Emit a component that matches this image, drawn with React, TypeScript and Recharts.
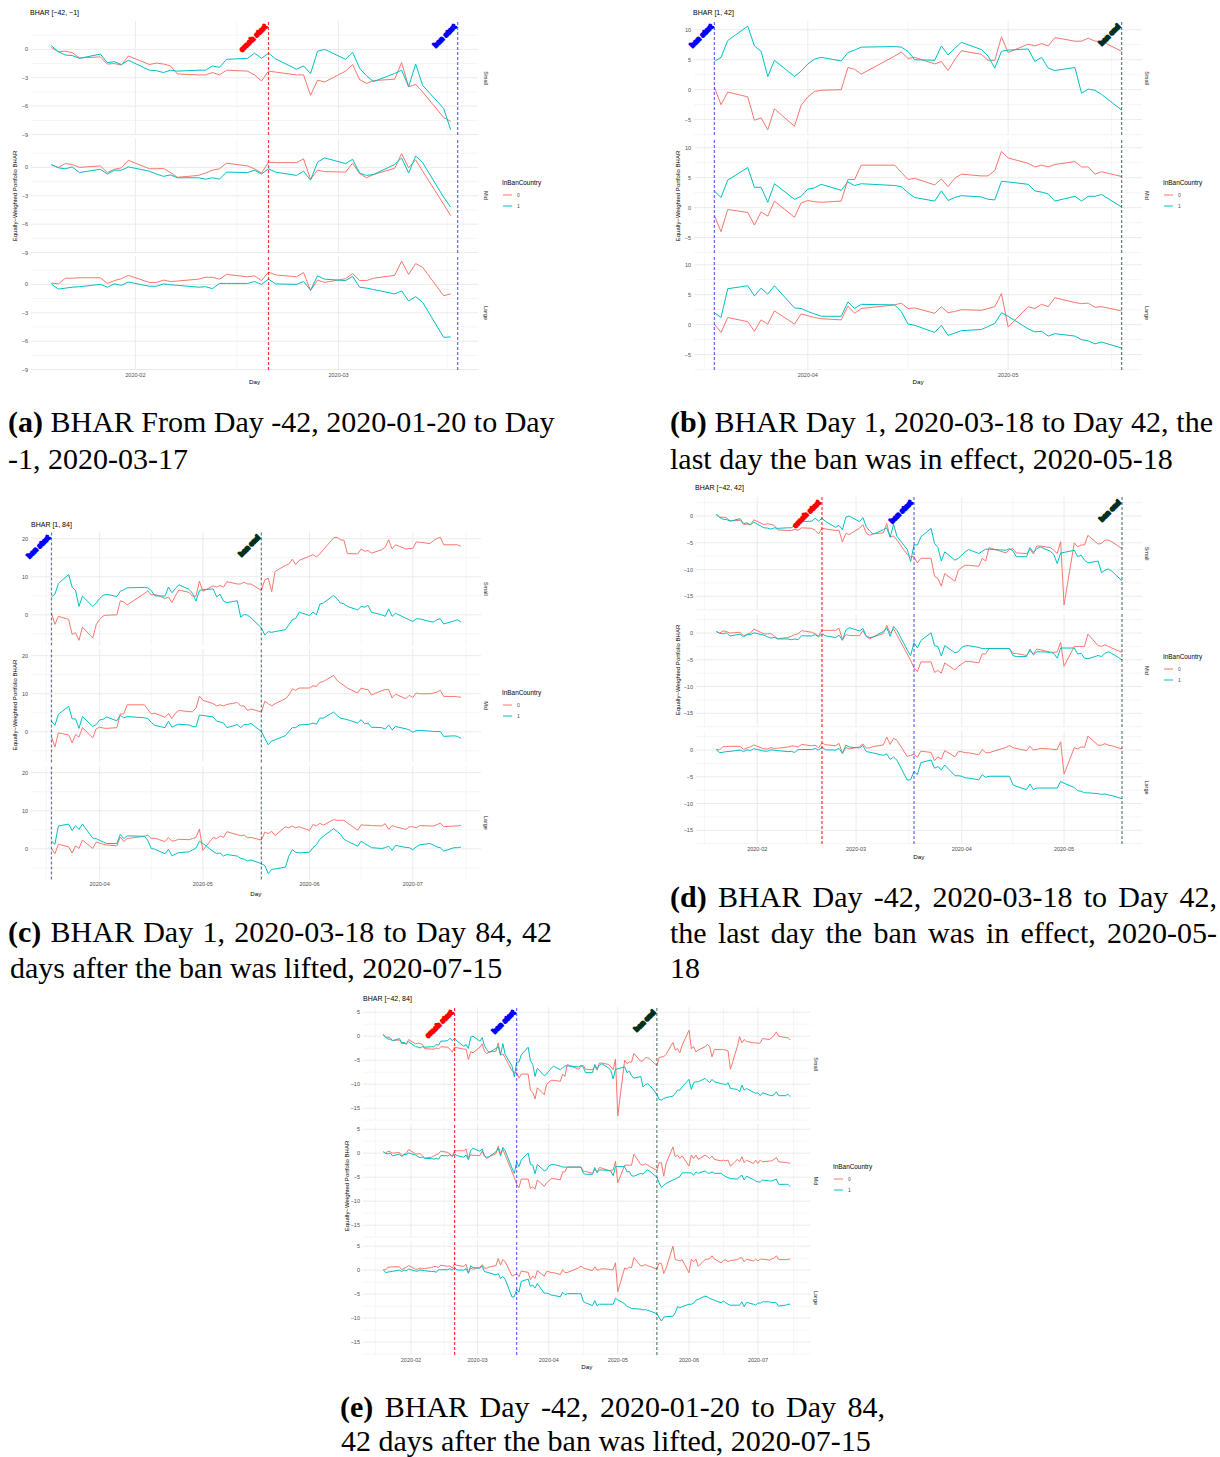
import { LineChart, Line, XAxis, YAxis, CartesianGrid, ReferenceLine } from 'recharts'

const HOLIDAYS = ['2020-04-10', '2020-04-13']
const MONTH_TICKS = ['2020-01-01', '2020-02-01', '2020-03-01', '2020-04-01', '2020-05-01', '2020-06-01', '2020-07-01', '2020-08-01']
const FACETS = ['Small', 'Mid', 'Large']
const GROUPS = ['0', '1']

const CRASH_START = '2020-02-20'
const BAN_START = '2020-03-18'
const BAN_END = '2020-05-18'

// BHAR from day -42, days -42..-1
const PRE_SMALL_0 = [0.2, -0.25, -0.2, -0.35, -0.9, -0.8, -1.55, -1.5, -1.65, -0.7, -1.6, -1.45, -1.55, -1.75, -2.6, -2.7, -2.7, -2.45, -2.7, -2.2, -2.3, -2.7, -3.35, -2.3, -2.4, -2.7, -2.7, -4.85, -3.25, -3.45, -2.3, -1.6, -3.2, -3.6, -3.3, -3.15, -1.4, -3.95, -3.7, -4.5, -7.2, -7.6]
const PRE_SMALL_1 = [0.4, -0.25, -0.6, -0.65, -0.95, -0.5, -1.4, -1.3, -1.6, -1.15, -2.2, -2.25, -2.45, -2.2, -2.3, -2.2, -2.2, -1.75, -1.9, -1.05, -0.95, -0.4, -0.95, -0.4, -1.0, -2.1, -1.75, -2.55, -0.2, 0.0, -1.05, -0.3, -2.0, -2.8, -3.4, -2.55, -2.2, -3.95, -1.55, -3.8, -6.25, -8.5]
const PRE_MID_0 = [0.25, 0, 0.4, 0.3, 0, 0.15, -0.55, -0.2, -0.05, 0.75, -0.15, -0.15, -0.1, -0.55, -1.05, -0.85, -0.6, -0.3, -0.15, 0.45, 0.15, -0.15, -0.6, 0.55, 0.5, 0.5, 0.9, -1.25, -0.3, -0.45, -0.5, 0.45, -0.65, -1.1, -0.75, -0.1, 1.45, -0.05, 0.8, -0.4, -3.9, -5.1]
const PRE_MID_1 = [0.3, -0.05, -0.15, 0.05, -0.55, -0.2, -0.7, -0.3, -0.3, 0.05, -0.4, -0.7, -0.95, -0.8, -1.1, -1.1, -1.25, -1.1, -1.25, -0.5, -0.55, -0.3, -0.7, -0.15, -0.5, -0.85, -0.4, -1.35, 0.55, 1.0, 0.4, 0.85, -0.6, -0.85, -0.75, 0.3, 1.0, -0.6, 1.2, 0.5, -3.15, -4.2]
const PRE_LARGE_0 = [0.15, 0.05, 0.65, 0.65, 0.7, 0.7, 0.1, 0.4, 0.6, 0.95, 0.2, 0.2, 0.45, 0.3, 0.35, 0.55, 0.75, 0.75, 0.55, 1.05, 0.8, 0.9, 0.4, 1.3, 1.0, 0.8, 1.25, -0.65, 0.45, 0.2, 0.6, 1.15, 0.4, 0.4, 0.65, 0.95, 2.45, 1.05, 2.2, 1.8, -1.2, -1.0]
const PRE_LARGE_1 = [0.05, -0.5, -0.4, -0.3, -0.25, 0, -0.3, 0.05, -0.1, 0.25, -0.2, -0.2, 0.05, -0.05, -0.1, -0.3, -0.25, -0.45, 0.1, 0.1, 0.1, 0.3, 0, 0.55, 0.05, 0, 0.3, -0.6, 0.9, 0.55, 0.4, 0.85, -0.3, -0.4, -0.55, -1.0, -0.7, -1.75, -1.3, -1.9, -5.6, -5.55]

// BHAR from day -42, days 1..42
const D_SMALL_0 = [-7.6, -8.75, -7.9, -7.9, -11.25, -11.7, -13.1, -10.75, -12.2, -10.1, -9.6, -9.2, -9.2, -9.4, -7.9, -8.4, -5.9, -6.9, -6.25, -6.1, -6.9, -7.0, -6.25, -7.1, -5.6, -5.6, -5.9, -6.4, -7.0, -4.8, -16.6, -5.0, -5.75, -5.4, -5.4, -3.6, -5.25, -5.1, -4.5, -4.5, -4.8, -6.1]
const D_SMALL_1 = [-5.4, -5.4, -3.9, -2.3, -5.1, -5.9, -8.4, -6.7, -8.25, -7.9, -7.3, -6.7, -6.25, -7.0, -6.6, -6.2, -6.2, -6.4, -6.1, -6.5, -7.6, -7.6, -5.9, -6.8, -6.1, -5.75, -6.6, -7.2, -8.9, -6.9, -6.8, -6.4, -7.6, -7.3, -8.25, -8.75, -8.4, -10.6, -10.1, -9.9, -10.3, -12.1]
const D_MID_0 = [-6.5, -7.2, -5.4, -5.4, -7.35, -7.0, -7.5, -5.6, -6.9, -6.2, -5.8, -5.3, -5.3, -5.55, -3.9, -3.9, -2.9, -2.9, -2.9, -3.8, -3.8, -4.2, -3.3, -3.9, -3.0, -3.1, -3.6, -3.6, -3.5, -1.7, -6.2, -2.5, -2.5, -2.5, -2.5, -0.2, -2.35, -2.5, -2.2, -2.5, -2.8, -3.6]
const D_MID_1 = [-1.8, -2.8, -1.4, 0.05, -2.35, -2.5, -4.3, -2.35, -3.7, -3.5, -2.65, -2.4, -2.35, -2.7, -2.9, -2.9, -2.9, -2.9, -2.9, -4.2, -4.4, -4.4, -3.0, -4.1, -3.5, -3.5, -3.6, -3.8, -4.7, -2.8, -2.8, -2.8, -3.9, -3.8, -4.7, -4.8, -4.2, -4.4, -3.8, -3.5, -3.8, -5.0]
const D_LARGE_0 = [-0.8, -1.35, -0.2, -0.45, -2.0, -1.25, -1.7, -0.1, -1.25, -0.3, -0.3, -0.5, -0.5, -0.9, 0.1, -0.5, -0.5, 0.5, 0.85, 0.45, 0.3, -0.1, 0.7, 0, 0.1, 0.3, 0.2, 0.1, 0.1, 1.55, -4.5, 0.45, 0.2, 0.6, 0.5, 2.6, 0.9, 0.9, 1.2, 0.9, 0.8, 0.2]
const D_LARGE_1 = [-4.0, -4.6, -2.35, -1.85, -3.4, -3.1, -3.7, -2.8, -4.8, -4.8, -4.9, -5.2, -5.25, -5.55, -4.6, -5.1, -4.9, -4.9, -4.9, -6.5, -6.8, -7.4, -6.35, -7.4, -7.1, -7.1, -7.1, -7.1, -7.1, -5.85, -6.2, -7.0, -7.6, -7.7, -8.0, -8.0, -8.15, -8.3, -8.2, -8.4, -8.5, -9.1]

// BHAR from day -42, days 43..84
const E_SMALL_0 = [-4.5, -4.3, -4.3, -3.8, -1.3, -2.9, -2.6, -3.5, -1.9, 1.25, -2.6, -2.2, -3.3, -2.9, -2.2, -1.7, -2.2, -4.3, -2.8, -2.8, -2.8, -2.9, -3.1, -6.9, -2.2, -0.1, -1.4, -0.7, -1.1, -1.4, -1.4, -1.5, -1.4, -0.5, -0.7, -0.3, 0.2, 0.9, 0, -0.3, -0.3, -0.8]
const E_SMALL_1 = [-13.2, -13.3, -13.0, -12.8, -12.5, -11.9, -11.25, -11.25, -10.6, -9.0, -11.1, -9.7, -9.5, -9.5, -8.8, -9.3, -9.65, -9.0, -9.5, -9.9, -10.0, -10.1, -9.7, -10.9, -11.1, -11.6, -10.2, -11.25, -10.9, -11.7, -11.9, -11.8, -12.4, -11.8, -12.3, -12.4, -12.2, -11.6, -12.4, -12.4, -12.1, -12.6]
const E_MID_0 = [-2.0, -2.0, -4.8, -2.15, 1.3, -0.75, -0.4, -1.1, -0.55, -2.7, -0.4, -1.1, -0.4, -1.3, -0.4, -0.75, -1.1, -0.6, -1.3, -1.6, -1.45, -1.6, -1.45, -2.7, -1.3, -1.8, -0.75, -1.95, -1.45, -2.15, -1.45, -2.15, -1.45, -1.8, -1.65, -1.6, -1.3, -0.9, -1.8, -1.95, -2.0, -2.15]
const E_MID_1 = [-6.2, -7.15, -6.7, -6.3, -5.6, -5.4, -5.1, -4.9, -4.1, -4.1, -4.1, -4.6, -3.9, -4.2, -3.7, -4.1, -4.2, -3.9, -4.2, -4.2, -4.6, -4.9, -5.1, -5.3, -5.4, -4.9, -4.6, -5.6, -4.8, -5.5, -5.8, -6.0, -6.0, -5.6, -5.8, -5.8, -5.6, -5.4, -6.5, -6.5, -6.5, -7.0]
const E_LARGE_0 = [1.5, 1.4, -0.7, 0.35, 5.0, 2.2, 2.1, 1.95, 2.2, -0.55, 2.3, 1.75, 2.3, 0.8, 2.2, 2.3, 2.35, 3.0, 2.35, 1.5, 2.1, 2.1, 1.8, 2.0, 2.2, 2.5, 2.6, 1.75, 2.3, 1.9, 2.3, 1.9, 2.3, 2.3, 2.1, 2.35, 2.5, 3.0, 2.2, 2.2, 2.2, 2.4]
const E_LARGE_1 = [-9.9, -10.6, -9.8, -9.7, -9.6, -8.9, -7.6, -7.85, -7.6, -7.1, -7.1, -6.9, -6.25, -6.1, -5.4, -5.55, -5.9, -6.05, -6.25, -6.8, -6.45, -6.8, -7.1, -7.3, -7.3, -7.3, -6.6, -7.6, -6.7, -7.1, -7.3, -6.8, -6.9, -6.6, -6.6, -6.75, -6.75, -6.8, -7.5, -7.3, -7.1, -7.1]

// BHAR from day 1, days 1..42
const B_SMALL_0 = [0.4, -2.5, -0.4, -1.2, -5.1, -4.7, -6.7, -3.2, -6.1, -2.6, -1.2, -0.3, -0.1, 0.0, 3.7, 3.4, 2.6, 5.6, 6.3, 5.2, 5.4, 4.3, 4.7, 3.2, 5.0, 6.5, 5.9, 4.9, 4.9, 8.8, 6.2, 7.6, 7.3, 7.7, 7.3, 8.7, 8.1, 8.1, 8.6, 8.1, 8.1, 6.4]
const B_SMALL_1 = [4.7, 5.4, 8.2, 10.6, 7.3, 6.4, 2.2, 4.9, 2.2, 3.1, 4.3, 5.1, 5.4, 4.8, 6.2, 6.6, 7.1, 7.2, 7.1, 6.4, 5.0, 4.9, 7.3, 5.8, 6.9, 7.9, 6.7, 5.6, 3.6, 6.4, 6.6, 6.8, 4.7, 5.4, 3.6, 3.2, 3.7, -0.6, 0.1, -0.1, -0.8, -3.4]
const B_MID_0 = [-1.3, -4.0, -0.3, -0.8, -2.9, -0.7, -1.4, 1.1, -1.6, 0.8, 1.2, 1.0, 0.9, 1.1, 4.7, 4.7, 7.1, 7.1, 5.9, 4.7, 4.9, 3.8, 4.8, 3.5, 4.9, 5.6, 5.3, 5.3, 6.2, 9.4, 8.3, 7.4, 6.8, 7.1, 6.8, 7.2, 7.7, 6.8, 6.8, 5.6, 6.0, 5.2]
const B_MID_1 = [2.8, 1.7, 4.6, 6.7, 3.4, 3.4, 0.9, 4.0, 1.4, 1.9, 3.1, 3.3, 3.9, 2.9, 4.3, 3.7, 4.0, 3.7, 3.5, 2.5, 1.7, 1.1, 2.8, 1.2, 1.7, 2.0, 1.8, 1.4, 1.3, 4.4, 4.3, 3.9, 2.8, 2.6, 2.3, 1.1, 1.9, 1.1, 1.9, 1.9, 2.2, 0.1]
const B_LARGE_0 = [0.1, -1.3, 1.2, 0.5, -1.1, 0.8, 0.1, 2.3, 0.1, 1.8, 1.5, 1.2, 1.0, 0.8, 3.1, 1.9, 2.7, 3.3, 3.6, 2.7, 2.8, 1.9, 3.0, 2.0, 2.2, 2.5, 2.4, 2.7, 3.0, 5.2, -0.4, 3.0, 2.7, 3.4, 3.0, 4.5, 3.7, 3.5, 3.6, 2.9, 3.0, 2.3]
const B_LARGE_1 = [2.0, 1.2, 6.0, 6.5, 4.8, 6.1, 5.1, 6.5, 2.8, 2.7, 2.2, 1.8, 1.4, 1.4, 3.8, 2.7, 3.4, 3.3, 2.2, 0.1, -0.1, -1.3, -0.1, -1.8, -1.4, -1.0, -0.8, -0.3, 0.2, 2.0, 1.4, -0.7, -1.2, -1.1, -1.9, -1.5, -1.9, -2.5, -2.7, -3.2, -2.9, -3.9]

// BHAR from day 1, days 43..84
const C_SMALL_0 = [9.2, 9.6, 6.1, 11.4, 13.0, 13.3, 14.6, 13.2, 14.3, 15.4, 15.8, 15.2, 16.0, 17.1, 20.2, 20.4, 19.7, 19.6, 16.1, 16.0, 17.3, 16.7, 16.9, 16.2, 17.1, 17.8, 19.7, 17.3, 18.4, 17.3, 17.4, 17.4, 19.1, 19.1, 18.7, 19.5, 20.0, 20.4, 18.4, 18.4, 18.4, 18.0]
const C_SMALL_1 = [-5.3, -4.4, -4.6, -4.4, -3.9, -2.6, -1.3, -0.9, 0.7, -0.2, 0.7, 0, 2.8, 3.1, 5.1, 4.2, 3.1, 2.9, 2.2, 1.3, 2.2, 2.0, 2.5, 0.7, 0, -0.4, 1.6, -0.4, 0.4, -0.9, -1.3, -1.75, -1.05, -1.05, -1.75, -1.9, -1.3, -1.05, -2.4, -1.6, -1.3, -1.9]
const C_MID_0 = [8.0, 7.4, 6.8, 7.4, 8.7, 9.7, 11.3, 10.9, 11.5, 11.5, 12.1, 11.9, 13.0, 13.2, 14.8, 13.5, 12.8, 12.2, 11.5, 10.2, 11.5, 11.2, 11.1, 9.7, 10.8, 11.1, 11.1, 8.9, 9.9, 8.7, 9.6, 9.0, 10.2, 10.0, 10.0, 10.2, 10.4, 10.9, 9.3, 9.3, 9.2, 9.1]
const C_MID_1 = [-1.7, -3.4, -2.4, -2.1, -1.0, 0.1, 1.1, 1.1, 1.8, 2.0, 2.3, 2.0, 3.6, 3.6, 5.2, 4.3, 3.6, 3.4, 3.2, 2.3, 3.2, 2.1, 2.3, 1.2, 1.1, 0.7, 1.8, 0.5, 1.4, 0.8, 0.5, -0.1, 0.3, 0.35, 0.2, 0.1, 0.1, 0.1, -1.2, -1.05, -1.2, -1.7]
const C_LARGE_0 = [4.4, 4.0, 4.6, 3.5, 5.8, 5.5, 6.0, 5.5, 5.8, 4.8, 6.4, 6.0, 6.7, 6.2, 7.7, 7.5, 7.5, 7.5, 6.8, 4.9, 6.3, 6.2, 6.2, 6.1, 6.0, 6.6, 5.1, 6.1, 5.8, 5.1, 5.8, 5.8, 5.5, 6.1, 6.0, 6.0, 6.3, 6.8, 5.8, 6.0, 6.0, 6.2]
const C_LARGE_1 = [-4.4, -6.5, -5.4, -5.3, -4.8, -1.9, -0.2, -0.9, -1.05, -0.9, 0.3, 1.1, 2.5, 3.3, 5.3, 4.6, 3.8, 2.5, 2.0, 0.7, 2.0, 1.4, 0.9, 0.3, 0.1, 0.3, 0.7, -0.4, 0.9, 0.35, 0.3, -0.2, 0.5, 1.05, 1.4, 1.0, 0.5, 0.3, -0.6, 0.3, 0.3, 0.5]

const RED = '#F8766D'
const CYAN = '#00BFC4'
const Y_AXIS_W = 22
const X_AXIS_H = 14
const PAD = 5
const SANS = '"Liberation Sans", Arial, sans-serif'
const SERIF = '"Liberation Serif", "DejaVu Serif", serif'
const DAY0 = Date.parse('2020-01-01T00:00:00Z')

function tradingDays(from: string, to: string) {
  const out: string[] = []
  const end = Date.parse(to + 'T00:00:00Z')
  for (let ms = Date.parse(from + 'T00:00:00Z'); ms <= end; ms += 864e5) {
    const d = new Date(ms)
    const s = d.toISOString().slice(0, 10)
    if (d.getUTCDay() !== 0 && d.getUTCDay() !== 6 && !HOLIDAYS.includes(s)) out.push(s)
  }
  return out
}

const PRE_DAYS = tradingDays('2020-01-20', '2020-03-17')
const BAN_DAYS = tradingDays('2020-03-18', '2020-05-18')
const POST_DAYS = tradingDays('2020-05-19', '2020-07-15')

const toT = (d: string) => Math.round((Date.parse(d + 'T00:00:00Z') - DAY0) / 864e5)
const fmtMonth = (t: number) => new Date(DAY0 + t * 864e5).toISOString().slice(0, 7)
const fmtNum = (v: number) => (v < 0 ? '\u2212' + Math.abs(v) : String(v))

type VLine = { date: string; color: string; opacity: number; label: string; labelColor: string }
const CRASH: VLine = { date: CRASH_START, color: '#FF0000', opacity: 0.8, label: 'crash start', labelColor: '#FF0000' }
const START: VLine = { date: BAN_START, color: '#0000FF', opacity: 0.6, label: 'ban start', labelColor: '#0000FF' }
const END: VLine = { date: BAN_END, color: '#0E3B2A', opacity: 0.65, label: 'ban end', labelColor: '#00301E' }

type PanelSpec = {
  title: string
  left: number
  right: number
  tops: number[]
  facetH: number
  days: string[]
  series: number[][][]
  yTicks: number[]
  vlines: VLine[]
  stripX: number
  legend: [number, number]
  yTitle: [number, number]
  titlePos: [number, number]
  dayY: number
}

const PANELS: PanelSpec[] = [
  {
    title: 'BHAR [\u221242, \u22121]', left: 31, right: 478, tops: [21, 138.5, 256], facetH: 114,
    days: PRE_DAYS,
    series: [[PRE_SMALL_0, PRE_SMALL_1], [PRE_MID_0, PRE_MID_1], [PRE_LARGE_0, PRE_LARGE_1]],
    yTicks: [-9, -6, -3, 0], vlines: [CRASH, START],
    stripX: 486, legend: [502, 183], yTitle: [15, 196], titlePos: [30, 12], dayY: 382,
  },
  {
    title: 'BHAR [1, 42]', left: 694, right: 1142, tops: [21, 138.5, 256], facetH: 114,
    days: BAN_DAYS,
    series: [[B_SMALL_0, B_SMALL_1], [B_MID_0, B_MID_1], [B_LARGE_0, B_LARGE_1]],
    yTicks: [-5, 0, 5, 10], vlines: [START, END],
    stripX: 1147, legend: [1163, 183], yTitle: [678, 196], titlePos: [693, 12], dayY: 382,
  },
  {
    title: 'BHAR [1, 84]', left: 30.6, right: 481, tops: [532, 649, 766], facetH: 113.5,
    days: [...BAN_DAYS, ...POST_DAYS],
    series: [[[...B_SMALL_0, ...C_SMALL_0], [...B_SMALL_1, ...C_SMALL_1]], [[...B_MID_0, ...C_MID_0], [...B_MID_1, ...C_MID_1]], [[...B_LARGE_0, ...C_LARGE_0], [...B_LARGE_1, ...C_LARGE_1]]],
    yTicks: [0, 10, 20], vlines: [START, END],
    stripX: 486, legend: [502, 693], yTitle: [15, 705], titlePos: [31, 524], dayY: 894,
  },
  {
    title: 'BHAR [\u221242, 42]', left: 695.7, right: 1142, tops: [497, 614, 731], facetH: 113,
    days: [...PRE_DAYS, ...BAN_DAYS],
    series: [[[...PRE_SMALL_0, ...D_SMALL_0], [...PRE_SMALL_1, ...D_SMALL_1]], [[...PRE_MID_0, ...D_MID_0], [...PRE_MID_1, ...D_MID_1]], [[...PRE_LARGE_0, ...D_LARGE_0], [...PRE_LARGE_1, ...D_LARGE_1]]],
    yTicks: [-15, -10, -5, 0], vlines: [CRASH, START, END],
    stripX: 1147, legend: [1163, 657], yTitle: [678, 670], titlePos: [695, 487], dayY: 857,
  },
  {
    title: 'BHAR [\u221242, 84]', left: 363, right: 810.5, tops: [1007, 1124, 1241], facetH: 114,
    days: [...PRE_DAYS, ...BAN_DAYS, ...POST_DAYS],
    series: [[[...PRE_SMALL_0, ...D_SMALL_0, ...E_SMALL_0], [...PRE_SMALL_1, ...D_SMALL_1, ...E_SMALL_1]], [[...PRE_MID_0, ...D_MID_0, ...E_MID_0], [...PRE_MID_1, ...D_MID_1, ...E_MID_1]], [[...PRE_LARGE_0, ...D_LARGE_0, ...E_LARGE_0], [...PRE_LARGE_1, ...D_LARGE_1, ...E_LARGE_1]]],
    yTicks: [-15, -10, -5, 0, 5], vlines: [CRASH, START, END],
    stripX: 816, legend: [833, 1167], yTitle: [347, 1186], titlePos: [363, 998], dayY: 1367,
  },
]

type CapLine = { x: number; y: number; w?: number; label?: string; text: string }
const CAPTIONS: CapLine[] = [
  { x: 8, y: 422, w: 543, label: '(a)', text: ' BHAR From Day -42, 2020-01-20 to Day' },
  { x: 8, y: 459, text: '-1, 2020-03-17' },
  { x: 670, y: 422, w: 543, label: '(b)', text: ' BHAR Day 1, 2020-03-18 to Day 42, the' },
  { x: 670, y: 459, text: 'last day the ban was in effect, 2020-05-18' },
  { x: 8, y: 932, w: 544, label: '(c)', text: ' BHAR Day 1, 2020-03-18 to Day 84, 42' },
  { x: 10, y: 968, text: 'days after the ban was lifted, 2020-07-15' },
  { x: 670, y: 897, w: 547, label: '(d)', text: ' BHAR Day -42, 2020-03-18 to Day 42,' },
  { x: 670, y: 933, w: 547, text: 'the last day the ban was in effect, 2020-05-' },
  { x: 670, y: 968, text: '18' },
  { x: 340, y: 1407, w: 545, label: '(e)', text: ' BHAR Day -42, 2020-01-20 to Day 84,' },
  { x: 341, y: 1441, text: '42 days after the ban was lifted, 2020-07-15' },
]

function VLabel({ viewBox, text, color }: any) {
  if (!viewBox) return null
  const x = viewBox.x - 1
  const y = viewBox.y + 6
  return (
    <text
      x={x} y={y} transform={`rotate(-45 ${x} ${y})`} textAnchor="end"
      fontSize={7} fontWeight={700} fill={color} stroke={color} strokeWidth={1.8}
      strokeLinejoin="round" fontFamily={SANS}
    >
      {text}
    </text>
  )
}

function Panel({ p }: { p: PanelSpec }) {
  const all = p.series.flat(2)
  const lo = Math.min(...all)
  const hi = Math.max(...all)
  const yDomain: [number, number] = [lo - (hi - lo) * 0.05, hi + (hi - lo) * 0.05]
  const ts = p.days.map(toT)
  const vts = p.vlines.map(v => toT(v.date))
  const tLo = Math.min(...ts, ...vts)
  const tHi = Math.max(...ts, ...vts)
  const xDomain: [number, number] = [tLo - (tHi - tLo) * 0.05, tHi + (tHi - tLo) * 0.05]
  const inX = (t: number) => t >= xDomain[0] && t <= xDomain[1]
  const inY = (v: number) => v >= yDomain[0] && v <= yDomain[1]
  const monthT = MONTH_TICKS.map(toT)
  const xMajor = monthT.filter(inX)
  const xMinor = monthT.slice(1).map((t, i) => (t + monthT[i]) / 2).filter(inX)
  const step = p.yTicks[1] - p.yTicks[0]
  const yMinor = [...p.yTicks.map(v => v - step / 2), p.yTicks[p.yTicks.length - 1] + step / 2].filter(inY)
  const plotW = p.right - p.left

  return (
    <>
      {FACETS.map((name, f) => {
        const bottom = f === FACETS.length - 1
        const rows = ts.map((t, i) => ({ t, v0: p.series[f][0][i], v1: p.series[f][1][i] }))
        return (
          <div key={name} style={{ position: 'absolute', left: p.left - Y_AXIS_W, top: p.tops[f] - PAD }}>
            <LineChart
              width={plotW + Y_AXIS_W}
              height={p.facetH + 2 * PAD + (bottom ? X_AXIS_H : 0)}
              data={rows}
              margin={{ top: PAD, right: 0, bottom: PAD, left: 0 }}
            >
              <CartesianGrid horizontalValues={yMinor} verticalValues={xMinor} stroke="#F2F2F2" strokeWidth={0.8} />
              <CartesianGrid horizontalValues={p.yTicks} verticalValues={xMajor} stroke="#EBEBEB" strokeWidth={1} />
              <XAxis
                type="number" dataKey="t" domain={xDomain} ticks={xMajor} allowDataOverflow
                hide={!bottom} height={X_AXIS_H} axisLine={false} tickLine={false}
                tickSize={0} tickMargin={3} interval={0} tickFormatter={fmtMonth}
                tick={{ fontSize: 5.5, fill: '#4D4D4D', fontFamily: SANS }}
              />
              <YAxis
                type="number" domain={yDomain} ticks={p.yTicks} allowDataOverflow
                width={Y_AXIS_W} axisLine={false} tickLine={false} tickSize={0} tickMargin={3}
                interval={0} tickFormatter={fmtNum}
                tick={{ fontSize: 5.5, fill: '#4D4D4D', fontFamily: SANS }}
              />
              <Line type="linear" dataKey="v0" stroke={RED} strokeWidth={1} dot={false} isAnimationActive={false} />
              <Line type="linear" dataKey="v1" stroke={CYAN} strokeWidth={1} dot={false} isAnimationActive={false} />
              {p.vlines.map(v => (
                <ReferenceLine
                  key={v.date} x={toT(v.date)} stroke={v.color} strokeOpacity={v.opacity}
                  strokeWidth={1.2} strokeDasharray="3 2"
                  label={f === 0 ? <VLabel text={v.label} color={v.labelColor} /> : undefined}
                />
              ))}
            </LineChart>
          </div>
        )
      })}
    </>
  )
}

function Decorations({ p }: { p: PanelSpec }) {
  const [lx, ly] = p.legend
  return (
    <g fontFamily={SANS}>
      <text x={p.titlePos[0]} y={p.titlePos[1] + 2.5} fontSize={7} fill="#000">{p.title}</text>
      <text
        transform={`translate(${p.yTitle[0]},${p.yTitle[1]}) rotate(-90)`}
        textAnchor="middle" dy="0.35em" fontSize={6} fill="#000"
      >
        Equally{'\u2212'}Weighted Portfolio BHAR
      </text>
      {FACETS.map((name, f) => (
        <text
          key={name}
          transform={`translate(${p.stripX},${p.tops[f] + p.facetH / 2}) rotate(90)`}
          textAnchor="middle" dy="0.35em" fontSize={5.5} fill="#1A1A1A"
        >
          {name}
        </text>
      ))}
      <text x={(p.left + p.right) / 2} y={p.dayY + 2.2} textAnchor="middle" fontSize={6.2} fill="#000">Day</text>
      <text x={lx} y={ly + 2.2} fontSize={6.4} fill="#000">InBanCountry</text>
      {GROUPS.map((g, i) => (
        <g key={g}>
          <line x1={lx + 1} x2={lx + 10} y1={ly + 12 + i * 11} y2={ly + 12 + i * 11} stroke={i === 0 ? RED : CYAN} strokeWidth={1} />
          <text x={lx + 15} y={ly + 14 + i * 11} fontSize={5} fill="#4D4D4D">{g}</text>
        </g>
      ))}
    </g>
  )
}

export default function App() {
  return (
    <div style={{ position: 'absolute', left: 0, top: 0, width: 1220, height: 1457, background: '#fff', overflow: 'hidden' }}>
      <svg width={1220} height={1457} style={{ position: 'absolute', left: 0, top: 0 }}>
        {PANELS.map(p => <Decorations key={p.title} p={p} />)}
      </svg>
      {PANELS.map(p => <Panel key={p.title} p={p} />)}
      {CAPTIONS.map((c, i) => (
        <div
          key={i}
          style={{
            position: 'absolute', left: c.x, top: c.y - 12, width: c.w, height: 24, lineHeight: '24px',
            fontSize: 30, fontFamily: SERIF, color: '#000', whiteSpace: 'nowrap',
            textAlign: c.w ? 'justify' : 'left', textAlignLast: c.w ? 'justify' : 'auto',
          }}
        >
          {c.label && <b>{c.label}</b>}
          {c.text}
        </div>
      ))}
    </div>
  )
}
